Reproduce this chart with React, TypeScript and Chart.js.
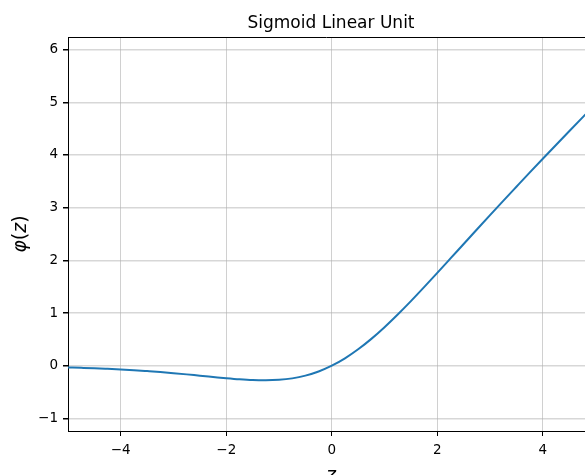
import React, { useEffect, useRef } from "react";
import { Chart, registerables } from "chart.js";

Chart.register(...registerables);

const TITLE = "Sigmoid Linear Unit";
const X_LABEL = "z";
const zValues = [
  -5, -4.75, -4.5, -4.25, -4, -3.75, -3.5, -3.25, -3, -2.75, -2.5, -2.25, -2,
  -1.75, -1.5, -1.25, -1, -0.75, -0.5, -0.25, 0, 0.25, 0.5, 0.75, 1, 1.25, 1.5,
  1.75, 2, 2.25, 2.5, 2.75, 3, 3.25, 3.5, 3.75, 4, 4.25, 4.5, 4.75, 5,
];
const phiValues = [
  -0.034, -0.041, -0.049, -0.06, -0.072, -0.086, -0.103, -0.121, -0.142, -0.165,
  -0.19, -0.214, -0.238, -0.259, -0.274, -0.278, -0.269, -0.241, -0.189, -0.11,
  0, 0.14, 0.311, 0.509, 0.731, 0.972, 1.226, 1.491, 1.762, 2.036, 2.311, 2.585,
  2.858, 3.129, 3.397, 3.664, 3.928, 4.19, 4.45, 4.709, 4.967,
];
const xTicks = [-4, -2, 0, 2, 4];
const yTicks = [-1, 0, 1, 2, 3, 4, 5, 6];

const FONT = "'DejaVu Sans', sans-serif";
const fmt = (v: number) => (v < 0 ? "\u2212" + Math.abs(v) : String(v));

const decorPlugin = {
  id: "decor",
  afterDraw(chart: any) {
    const { ctx, chartArea } = chart;
    ctx.save();
    // top spine
    ctx.strokeStyle = "#000";
    ctx.lineWidth = 1;
    ctx.beginPath();
    ctx.moveTo(chartArea.left, chartArea.top + 0.5);
    ctx.lineTo(chartArea.right, chartArea.top + 0.5);
    ctx.stroke();
    // title
    ctx.fillStyle = "#000";
    ctx.font = `17px ${FONT}`;
    ctx.textAlign = "center";
    ctx.textBaseline = "alphabetic";
    ctx.fillText(TITLE, 331, 28);
    // x label
    ctx.font = `italic 19px ${FONT}`;
    ctx.fillText(X_LABEL, 331, 481);
    // y label phi(z)
    ctx.translate(26, 234);
    ctx.rotate(-Math.PI / 2);
    const parts: [string, boolean][] = [
      ["\u03C6", true],
      ["(", false],
      ["z", true],
      [")", false],
    ];
    let total = 0;
    for (const [t, it] of parts) {
      ctx.font = `${it ? "italic " : ""}19px ${FONT}`;
      total += ctx.measureText(t).width;
    }
    let x = -total / 2;
    ctx.textAlign = "left";
    for (const [t, it] of parts) {
      ctx.font = `${it ? "italic " : ""}19px ${FONT}`;
      ctx.fillText(t, x, 0);
      x += ctx.measureText(t).width;
    }
    ctx.restore();
  },
};

export default function App() {
  const ref = useRef<HTMLCanvasElement>(null);
  useEffect(() => {
    if (!ref.current) return;
    const data = zValues.map((z, i) => ({ x: z, y: phiValues[i] }));
    const chart = new Chart(ref.current, {
      type: "scatter",
      data: {
        datasets: [
          {
            data,
            showLine: true,
            borderColor: "#1f77b4",
            backgroundColor: "#1f77b4",
            borderWidth: 2,
            pointRadius: 0,
            cubicInterpolationMode: "monotone",
          },
        ],
      },
      options: {
        responsive: false,
        animation: false,
        layout: { padding: { top: 37, right: 0, left: 0, bottom: 0 } },
        plugins: {
          legend: { display: false },
          tooltip: { enabled: false },
          title: { display: false },
        },
        scales: {
          x: {
            type: "linear",
            min: -5,
            max: 4.8,
            afterBuildTicks: (s: any) => {
              s.ticks = xTicks.map((v) => ({ value: v }));
            },
            afterFit: (s: any) => {
              s.height = 44;
            },
            ticks: {
              callback: (v: any) => fmt(Number(v)),
              color: "#000",
              font: { family: FONT, size: 13.5 },
              padding: 6,
              maxRotation: 0,
              autoSkip: false,
            },
            grid: {
              color: "rgba(176,176,176,0.6)",
              lineWidth: 1,
              tickColor: "#000",
              tickLength: 5,
            },
            border: { display: true, color: "#000", width: 1 },
          },
          y: {
            type: "linear",
            min: -1.24,
            max: 6.24,
            afterBuildTicks: (s: any) => {
              s.ticks = yTicks.map((v) => ({ value: v }));
            },
            afterFit: (s: any) => {
              s.width = 68;
            },
            ticks: {
              callback: (v: any) => fmt(Number(v)),
              color: "#000",
              font: { family: FONT, size: 13.5 },
              padding: 5,
              autoSkip: false,
            },
            grid: {
              color: "rgba(176,176,176,0.5)",
              lineWidth: 1.5,
              tickColor: "#000",
              tickLength: 5,
            },
            border: { display: true, color: "#000", width: 1 },
          },
        },
      },
      plugins: [decorPlugin],
    } as any);
    return () => chart.destroy();
  }, []);
  return (
    <div style={{ position: "absolute", left: 0, top: 0, width: 585, height: 475, background: "#fff" }}>
      <canvas ref={ref} width={585} height={475} style={{ display: "block" }} />
    </div>
  );
}
